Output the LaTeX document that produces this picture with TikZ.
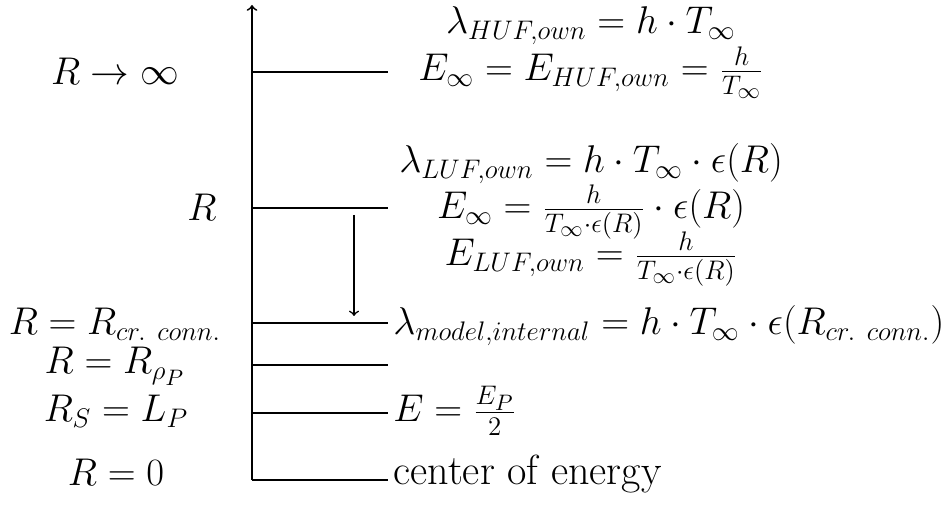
\documentclass[tikz,border=0pt]{standalone}
\begin{document}
\begin{tikzpicture}[x=0.447pt,y=-0.447pt,
  lvl/.style={line width=0.8pt},
  lab/.style={inner sep=0pt,font=\LARGE},
  rlab/.style={lab,anchor=base},
  wlab/.style={lab,anchor=base west}]
\useasboundingbox (0,0) rectangle (951,505);
% axis
\coordinate (bot) at (252,480);
\coordinate (top) at (252,5);
\draw[lvl,->] (bot) -- (top);
% levels
\foreach \n/\y in {inf/72,r/208,cr/323,rho/365,rs/413} {
  \coordinate (\n a) at (252,\y);
  \coordinate (\n b) at (388,\y);
  \draw[lvl] (\n a) -- (\n b);
}
\coordinate (za) at (252,480);
\coordinate (zb) at (388,480);
\draw[lvl] (za) -- (zb);
% inner arrow
\coordinate (ia) at (354,215);
\coordinate (ib) at (354,316);
\draw[line width=0.7pt,->] (ia) -- (ib);
% left labels
\node[rlab] (l1) at (115,85) {$R\rightarrow\infty$};
\node[rlab] (l2) at (202,221) {$R$};
\node[rlab] (l3) at (115,335) {$R=R_{cr.\ conn.}$};
\node[rlab] (l4) at (115,374) {$R=R_{\rho_P}$};
\node[rlab] (l5) at (116,422) {$R_S=L_P$};
\node[rlab] (l6) at (116,485) {$R=0$};
% right labels
\node[rlab] (t1) at (591,34) {$\lambda_{HUF,own}=h\cdot T_\infty$};
\node[rlab] (t2) at (591,81) {$E_\infty=E_{HUF,own}=\frac{h}{T_\infty}$};
\node[rlab] (t3) at (591,173) {$\lambda_{LUF,own}=h\cdot T_\infty\cdot\epsilon(R)$};
\node[rlab] (t4) at (591,219) {$E_\infty=\frac{h}{T_\infty\cdot\epsilon(R)}\cdot\epsilon(R)$};
\node[rlab] (t5) at (591,266) {$E_{LUF,own}=\frac{h}{T_\infty\cdot\epsilon(R)}$};
\node[wlab] (t6) at (393,335) {$\lambda_{model,internal}=h\cdot T_\infty\cdot\epsilon(R_{cr.\ conn.})$};
\node[wlab] (t7) at (393,422) {$E=\frac{E_P}{2}$};
\node[wlab,font=\fontsize{18.8}{22}\selectfont] (t8) at (393,484) {center of energy};
\end{tikzpicture}
\end{document}
